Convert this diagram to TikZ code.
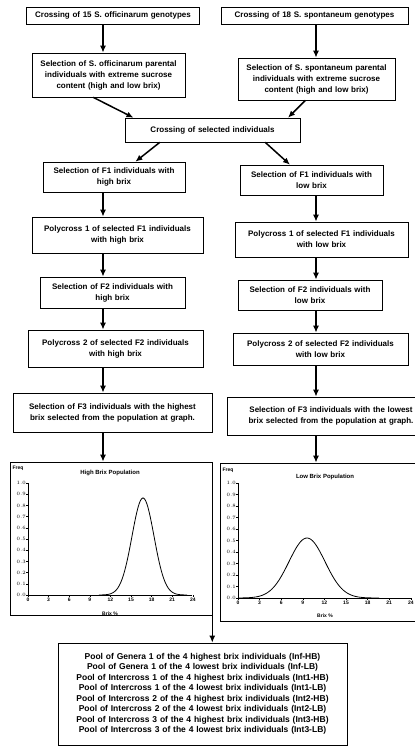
\documentclass[tikz,border=0pt]{standalone}
\usepackage{fontspec}
\setmainfont{Liberation Sans}
\usetikzlibrary{arrows.meta,calc}

\begin{document}
\begin{tikzpicture}[x=1pt,y=-1pt,
    box/.style={draw, line width=.6pt, align=center, inner sep=2pt, font=\fontsize{8}{11}\selectfont\bfseries},
    arr/.style={-{Latex[length=7pt,width=6pt]}, line width=1.5pt},
    frame/.style={draw, line width=.6pt, inner sep=0pt},
    lbl/.style={font=\fontsize{5}{5.5}\selectfont\bfseries, inner sep=1pt},
    ttl/.style={font=\fontsize{6}{6.5}\selectfont\bfseries, inner sep=1pt}]
\useasboundingbox (0,0) rectangle (415,747);
\coordinate (lspine) at (103,0);
\coordinate (rspine) at (316,0);

\node[box, text width=169pt, minimum height=17pt] (cl) at (113,15.5) {Crossing of 15 S. officinarum genotypes};
\node[box, text width=183pt, minimum height=17pt] (cr) at (314.5,15.5) {Crossing of 18 S. spontaneum genotypes};
\node[box, text width=149pt, minimum height=44pt] (sl) at (108.5,75) {Selection of S. officinarum parental\\individuals with extreme sucrose\\content (high and low brix)};
\node[box, text width=153pt, minimum height=42pt] (sr) at (316.5,79) {Selection of S. spontaneum parental\\individuals with extreme sucrose\\content (high and low brix)};
\node[box, text width=171pt, minimum height=24pt] (cx) at (212.5,130) {Crossing of selected individuals};
\node[box, text width=138pt, minimum height=30pt] (f1l) at (114,177) {Selection of F1 individuals with\\high brix};
\node[box, text width=139pt, minimum height=30pt] (f1r) at (311.5,180) {Selection of F1 individuals with\\low brix};
\node[box, text width=167pt, minimum height=36pt] (p1l) at (117.5,235) {Polycross 1 of selected F1 individuals\\with high brix};
\node[box, text width=169pt, minimum height=35pt] (p1r) at (321.5,239.5) {Polycross 1 of selected F1 individuals\\with low brix};
\node[box, text width=141pt, minimum height=31pt] (f2l) at (112.5,292.5) {Selection of F2 individuals with\\high brix};
\node[box, text width=140pt, minimum height=30pt] (f2r) at (310,295) {Selection of F2 individuals with\\low brix};
\node[box, text width=171pt, minimum height=37pt] (p2l) at (115.5,348.5) {Polycross 2 of selected F2 individuals\\with high brix};
\node[box, text width=171pt, minimum height=32pt] (p2r) at (320.5,349) {Polycross 2 of selected F2 individuals\\with low brix};
\node[box, text width=195pt, minimum height=39pt] (f3l) at (112.5,412.5) {Selection of F3 individuals with the highest\\brix selected from the population at graph.};
\node[box, text width=204pt, minimum height=38pt] (f3r) at (331,416) {Selection of F3 individuals with the lowest\\brix selected from the population at graph.};
\node[frame, minimum width=202pt, minimum height=153pt] (gl) at (111,538.5) {};
\node[frame, minimum width=200pt, minimum height=158pt] (gr) at (320,542) {};
\node[box, text width=285pt, minimum height=102pt, font=\fontsize{8.5}{10.5}\selectfont\bfseries] (fb) at (202.5,694) {Pool of Genera 1 of the 4 highest brix individuals (Inf-HB)\\Pool of Genera 1 of the 4 lowest brix individuals (Inf-LB)\\Pool of Intercross 1 of the 4 highest brix individuals (Int1-HB)\\Pool of Intercross 1 of the 4 lowest brix individuals (Int1-LB)\\Pool of Intercross 2 of the 4 highest brix individuals (Int2-HB)\\Pool of Intercross 2 of the 4 lowest brix individuals (Int2-LB)\\Pool of Intercross 3 of the 4 highest brix individuals (Int3-HB)\\Pool of Intercross 3 of the 4 lowest brix individuals (Int3-LB)};

\draw[arr] (cl.south -| lspine) -- (sl.north -| lspine);
\draw[arr] (cr.south -| rspine) -- (sr.north -| rspine);
\draw[arr] ($(sl.south west)!.4!(sl.south east)$) -- ($(cx.north west)!.05!(cx.north east)$);
\draw[arr] ($(sr.south west)!.43!(sr.south east)$) -- ($(cx.north west)!.93!(cx.north east)$);
\draw[arr] ($(cx.south west)!.2!(cx.south east)$) -- ($(f1l.north west)!.65!(f1l.north east)$);
\draw[arr] ($(cx.south west)!.8!(cx.south east)$) -- ($(f1r.north west)!.35!(f1r.north east)$);
\draw[arr] (f1l.south -| lspine) -- (p1l.north -| lspine);
\draw[arr] (p1l.south -| lspine) -- (f2l.north -| lspine);
\draw[arr] (f2l.south -| lspine) -- (p2l.north -| lspine);
\draw[arr] (p2l.south -| lspine) -- (f3l.north -| lspine);
\draw[arr] (f3l.south -| lspine) -- (gl.north -| lspine);
\draw[arr] (f1r.south -| rspine) -- (p1r.north -| rspine);
\draw[arr] (p1r.south -| rspine) -- (f2r.north -| rspine);
\draw[arr] (f2r.south -| rspine) -- (p2r.north -| rspine);
\draw[arr] (p2r.south -| rspine) -- (f3r.north -| rspine);
\draw[arr] (f3r.south -| rspine) -- (gr.north -| rspine);
\draw[arr] (gl.south east) -- (fb.north -| gl.south east);

\node[ttl] at (110,473) {High Brix Population};
\node[lbl] at (18,468) {Freq};
\node[lbl] at (110,614) {Brix \%};
\draw[line width=.8pt] (28,483) -- (28,595) -- (192,595);
\foreach \i [evaluate=\i as \v using \i/10] in {0,...,10}
    \draw (26,{595-11.2*\i}) -- (28,{595-11.2*\i}) node[lbl, left=1pt] {\pgfmathprintnumber[fixed,fixed zerofill,precision=1]{\v}};
\foreach \i [evaluate=\i as \v using int(3*\i)] in {0,...,8}
    \draw ({28+20.6*\i},595) -- ({28+20.6*\i},597) node[lbl, below] {\v};
\draw[line width=.8pt] plot[domain=99:187, samples=80] (\x,{595-97*exp(-((\x-143)/11)^2/2)});

\node[ttl] at (325,477) {Low Brix Population};
\node[lbl] at (228,470) {Freq};
\node[lbl] at (325,616) {Brix \%};
\draw[line width=.8pt] (238,483) -- (238,598) -- (412,598);
\foreach \i [evaluate=\i as \v using \i/10] in {0,...,10}
    \draw (236,{598-11.5*\i}) -- (238,{598-11.5*\i}) node[lbl, left=1pt] {\pgfmathprintnumber[fixed,fixed zerofill,precision=1]{\v}};
\foreach \i [evaluate=\i as \v using int(3*\i)] in {0,...,8}
    \draw ({238+21.6*\i},598) -- ({238+21.6*\i},600) node[lbl, below] {\v};
\draw[line width=.8pt] plot[domain=238:379, samples=80] (\x,{598-60*exp(-((\x-307)/18)^2/2)});
\end{tikzpicture}
\end{document}
